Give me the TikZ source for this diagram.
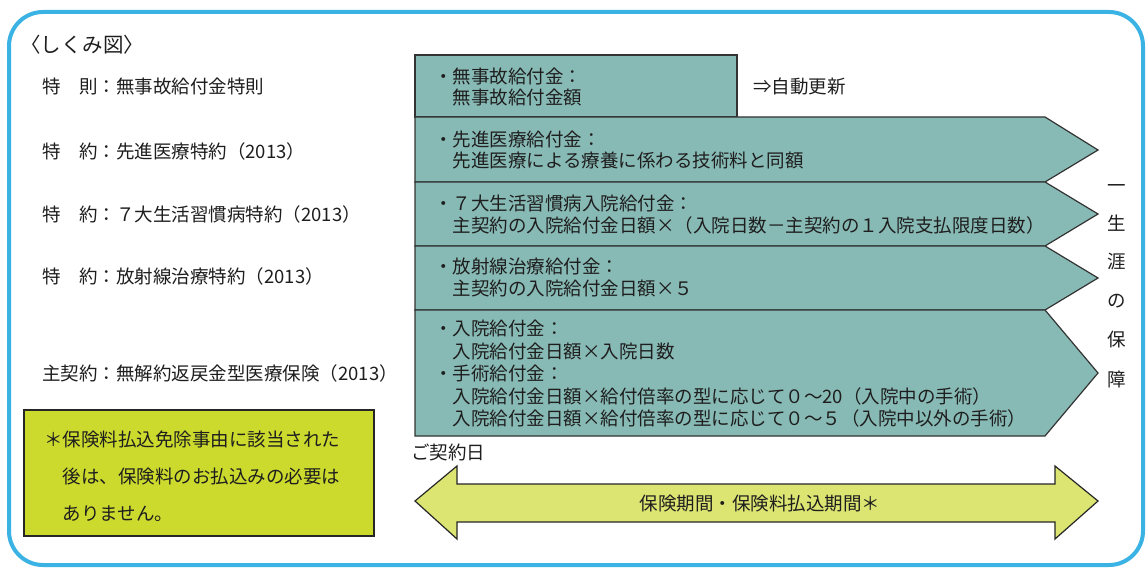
\documentclass[tikz,border=0pt]{standalone}
\usepackage{fontspec}
\setmainfont{Noto Sans CJK JP}
\definecolor{teal0}{HTML}{88BAB5}
\definecolor{lime0}{HTML}{CCDA2E}
\definecolor{arrowc}{HTML}{DCE572}
\definecolor{frame0}{HTML}{3AB2E4}
\definecolor{txt}{HTML}{1E1E1E}
\tikzset{
  ln/.style={anchor=base west, inner sep=0pt, text=txt, font=\fontsize{18.5}{22}\selectfont},
  vt/.style={anchor=base, inner sep=0pt, text=txt, font=\fontsize{18.5}{22}\selectfont},
  tealbox/.style={fill=teal0, draw=black!80, line width=1.2pt, line join=miter},
  outline/.style={draw=black!85, line width=1.2pt, line join=miter},
}
\begin{document}
\begin{tikzpicture}[x=1pt,y=-1pt]
\fill[white] (0,0) rectangle (1146,569);
\useasboundingbox (0,0) rectangle (1146,569);
% outer frame
\draw[frame0, line width=4pt, rounded corners=34pt] (9,12) rectangle (1143,565);

% title and left labels
\node[ln, font=\fontsize{20.5}{24}\selectfont] (title) at (20,53) {〈しくみ図〉};
\node[ln] (l1) at (42,94) {特　則：無事故給付金特則};
\node[ln] (l2) at (42,159) {特　約：先進医療特約（2013）};
\node[ln] (l3) at (42,222) {特　約：７大生活習慣病特約（2013）};
\node[ln] (l4) at (42,284) {特　約：放射線治療特約（2013）};
\node[ln] (l5) at (42,381) {主契約：無解約返戻金型医療保険（2013）};

% note box
\path[outline, fill=lime0] (24,410) rectangle (374,536);
\node[ln] (n1) at (44,446) {＊保険料払込免除事由に該当された};
\node[ln] (n2) at (44,483) {　後は、保険料のお払込みの必要は};
\node[ln] (n3) at (44,520) {　ありません。};

% teal benefit bands
\path[tealbox] (415,55) rectangle (737,117);
\path[tealbox] (415,117) -- (1045,117) -- (1098,150) -- (1045,182) -- (415,182) -- cycle;
\path[tealbox] (415,182) -- (1045,182) -- (1098,214) -- (1045,246) -- (415,246) -- cycle;
\path[tealbox] (415,246) -- (1045,246) -- (1098,278) -- (1045,310) -- (415,310) -- cycle;
\path[tealbox] (415,310) -- (1045,310) -- (1098,373) -- (1045,436) -- (415,436) -- cycle;

\node[ln] (b1a) at (434,84) {・無事故給付金：};
\node[ln] (b1b) at (434,105) {　無事故給付金額};
\node[ln] (upd) at (753,94) {⇒自動更新};

\node[ln] (b2a) at (434,147) {・先進医療給付金：};
\node[ln] (b2b) at (434,168) {　先進医療による療養に係わる技術料と同額};

\node[ln] (b3a) at (434,211) {・７大生活習慣病入院給付金：};
\node[ln] (b3b) at (434,233) {　主契約の入院給付金日額×（入院日数－主契約の１入院支払限度日数）};

\node[ln] (b4a) at (434,274) {・放射線治療給付金：};
\node[ln] (b4b) at (434,296) {　主契約の入院給付金日額×５};

\node[ln] (b5a) at (434,336) {・入院給付金：};
\node[ln] (b5b) at (434,358) {　入院給付金日額×入院日数};
\node[ln] (b5c) at (434,380) {・手術給付金：};
\node[ln] (b5d) at (434,403) {　入院給付金日額×給付倍率の型に応じて０～20（入院中の手術）};
\node[ln] (b5e) at (434,425) {　入院給付金日額×給付倍率の型に応じて０～５（入院中以外の手術）};

% vertical text
\node[vt] (v1) at (1117,193) {一};
\node[vt] (v2) at (1117,231) {生};
\node[vt] (v3) at (1117,269) {涯};
\node[vt] (v4) at (1117,308) {の};
\node[vt] (v5) at (1117,347) {保};
\node[vt] (v6) at (1117,386) {障};

% contract date and period arrow
\node[ln] (date) at (411,459) {ご契約日};
\path[outline, fill=arrowc] (415,501) -- (457,466) -- (457,484) -- (1055,484) -- (1055,466)
  -- (1098,501) -- (1055,539) -- (1055,522) -- (457,522) -- (457,539) -- cycle;
\node[vt] (period) at (760,510) {保険期間・保険料払込期間＊};
\end{tikzpicture}
\end{document}
